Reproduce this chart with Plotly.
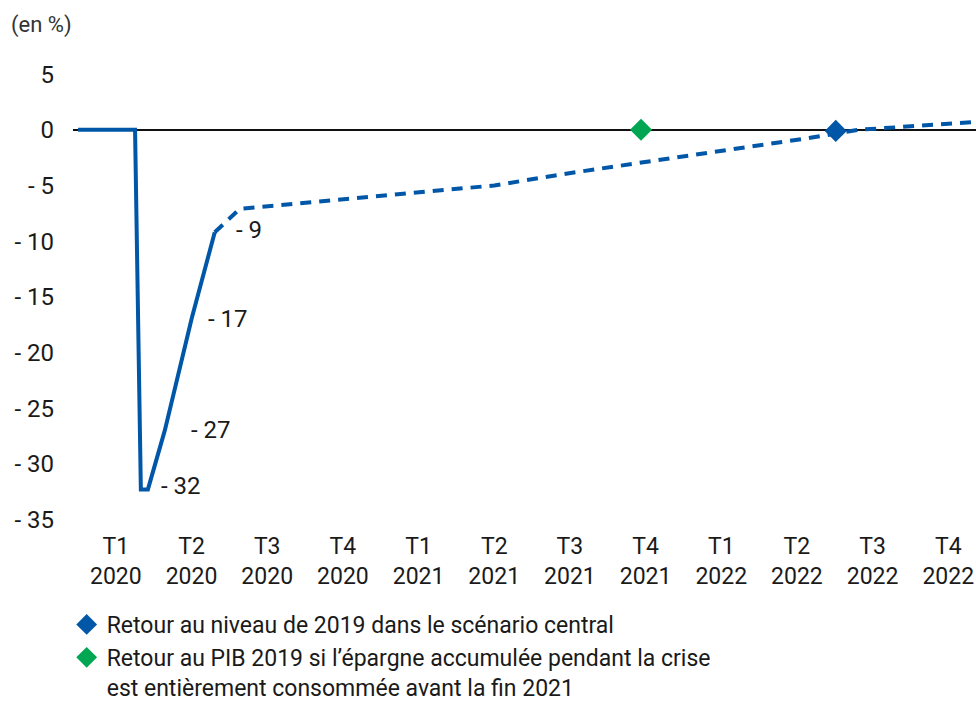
import plotly.graph_objects as go

# x in months since 1 Jan 2020
solid_x = [0.0, 2.26, 2.49, 2.77, 3.44, 4.51, 5.42]
solid_y = [0.0, 0.0, -32.3, -32.3, -27.0, -16.9, -9.2]

proj_x = [5.42, 6.41, 8.79, 11.56, 14.72, 16.50, 19.47, 22.52, 25.92, 29.09, 30.95, 35.6]
proj_y = [-9.2, -7.1, -6.6, -6.0, -5.4, -5.0, -3.9, -2.9, -1.7, -0.7, 0.0, 0.7]

label_x = [2.77, 3.44, 4.51, 5.42]
label_y = [-32.3, -27.0, -16.9, -9.2]
label_text = ["- 32", "- 27", "- 17", "- 9"]
label_shift = [(11, 3), (24, 0), (14, -1), (19, 2)]

central_x = [30.04]
central_y = [-0.1]
savings_x = [22.32]
savings_y = [0.0]

tick_vals_x = [1.5 + 3 * i for i in range(12)]
tick_text_x = ["T1<br>2020", "T2<br>2020", "T3<br>2020", "T4<br>2020",
               "T1<br>2021", "T2<br>2021", "T3<br>2021", "T4<br>2021",
               "T1<br>2022", "T2<br>2022", "T3<br>2022", "T4<br>2022"]
tick_vals_y = [5, 0, -5, -10, -15, -20, -25, -30, -35]
tick_text_y = ["5", "0", "- 5", "- 10", "- 15", "- 20", "- 25", "- 30", "- 35"]

BLUE = "#0057a8"
GREEN = "#00a651"
FONT = "Roboto, Liberation Sans, sans-serif"

fig = go.Figure()
fig.add_trace(go.Scatter(x=proj_x, y=proj_y, mode="lines", showlegend=False,
                         line=dict(color=BLUE, width=4, dash="11px,8px")))
fig.add_trace(go.Scatter(x=solid_x, y=solid_y, mode="lines", showlegend=False,
                         line=dict(color=BLUE, width=4)))
fig.add_trace(go.Scatter(x=central_x, y=central_y, mode="markers",
                         name="Retour au niveau de 2019 dans le scénario central",
                         marker=dict(symbol="diamond", size=17, color=BLUE)))
fig.add_trace(go.Scatter(x=savings_x, y=savings_y, mode="markers",
                         name="Retour au PIB 2019 si l’épargne accumulée pendant la crise<br>est entièrement consommée avant la fin 2021",
                         marker=dict(symbol="diamond", size=17, color=GREEN)))

for lx, ly, lt, (dx, dy) in zip(label_x, label_y, label_text, label_shift):
    fig.add_annotation(x=lx, y=ly, text=lt, showarrow=False, xanchor="left",
                       xshift=dx, yshift=dy, font=dict(size=24, color="#1a1a1a", family=FONT))

fig.add_annotation(xref="paper", yref="paper", x=-0.071, y=1.0, yshift=38,
                   text="(en %)", showarrow=False, xanchor="left", yanchor="middle",
                   font=dict(size=22, color="#333", family=FONT))

fig.update_layout(
    width=976, height=705,
    margin=dict(l=73, r=0, t=63, b=180),
    paper_bgcolor="white", plot_bgcolor="white",
    font=dict(family=FONT, size=22, color="#1a1a1a"),
    xaxis=dict(range=[-0.2, 35.6], showgrid=False, zeroline=False, showline=False,
               tickvals=tick_vals_x, ticktext=tick_text_x, ticks="", ticklabelstandoff=5,
               tickfont=dict(size=23, family=FONT, color="#1a1a1a")),
    yaxis=dict(range=[-35.5, 6], showgrid=False, zeroline=True, zerolinecolor="#111",
               zerolinewidth=1.5, showline=False, tickvals=tick_vals_y, ticktext=tick_text_y,
               ticks="", ticklabelstandoff=18,
               tickfont=dict(size=24, family=FONT, color="#1a1a1a")),
    legend=dict(x=-0.007, y=1 - 603 / 705, yref="container", xanchor="left", yanchor="top",
                valign="top",
                font=dict(size=23, family=FONT, color="#1a1a1a"),
                itemsizing="trace", tracegroupgap=0, bgcolor="rgba(0,0,0,0)"),
)

fig.write_html("out.html")
